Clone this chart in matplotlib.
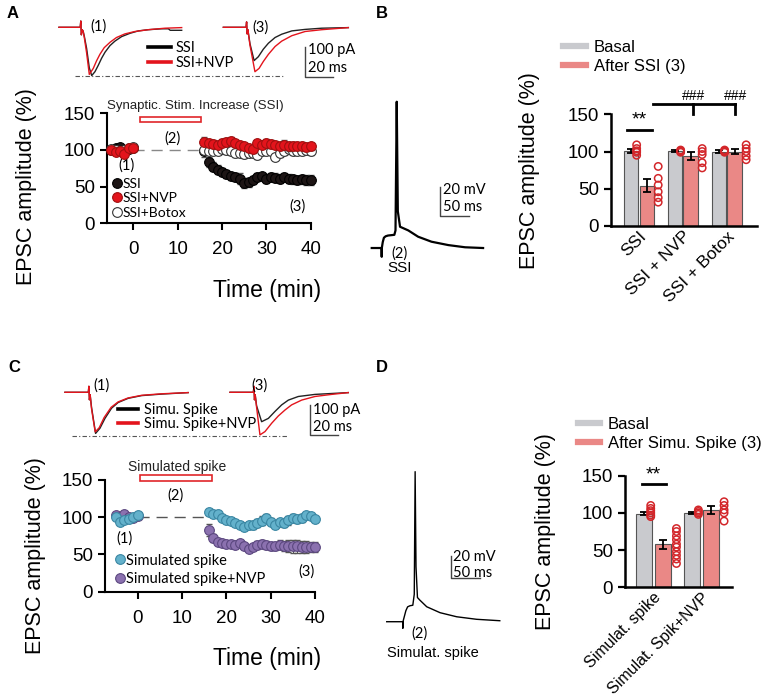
import numpy as np
import matplotlib.pyplot as plt
from matplotlib.lines import Line2D
from matplotlib.patches import Rectangle
from matplotlib.transforms import ScaledTranslation

plt.rcParams['font.family'] = ['Liberation Sans', 'DejaVu Sans']
CAL = ['Lato', 'DejaVu Sans']   # stands in for the Calibri-like annotation font

W, H = 767, 699

## ---- data ----
# time course, panel A (EPSC amplitude, % of baseline)
t_base = [-5, -4, -3, -2, -1, 0]
t_post = np.arange(16, 41)
ssi_base = [100, 102, 104, 100, 101, 103]
ssi_post = [99, 84, 77, 73, 70, 67, 64, 63, 61, 55, 56, 59, 63, 64, 61, 63, 62, 61, 63, 61, 60, 59, 60, 59, 59]
ssi_err = [8, 7, 6, 6, 6, 5, 5, 6, 7, 7, 6, 6, 5, 5, 6, 5, 6, 6, 5, 6, 6, 6, 6, 7, 7]
nvp_base = [100, 97, 99, 95, 102, 102]
nvp_post = [111, 109, 108, 107, 110, 111, 112, 109, 107, 105, 102, 101, 109, 107, 109, 108, 107, 105, 107, 105, 106, 105, 106, 104, 105]
nvp_err = [6, 5, 5, 4, 5, 5, 5, 4, 4, 5, 5, 5, 5, 5, 6, 5, 5, 5, 6, 6, 5, 5, 5, 5, 5]
btx_base = [101, 100, 98, 100, 103, 104]
btx_post = [100, 99, 98, 99, 101, 100, 98, 96, 96, 94, 96, 96, 93, 98, 99, 98, 91, 96, 99, 101, 98, 99, 98, 100, 98]
btx_err = [4, 4, 4, 4, 4, 5, 5, 5, 5, 5, 5, 5, 5, 5, 5, 5, 5, 5, 6, 6, 5, 5, 5, 5, 5]
base_err = [3, 3, 3, 3, 3, 3]

# time course, panel C
sim_base = [100, 94, 96, 97, 100, 103]
sim_post = [107, 105, 104, 99, 96, 95, 92, 90, 87, 89, 89, 92, 95, 99, 94, 90, 93, 92, 96, 99, 97, 99, 103, 101, 98]
sim_err = [4, 4, 4, 4, 4, 4, 4, 4, 4, 4, 5, 5, 6, 5, 5, 5, 5, 5, 6, 5, 5, 5, 4, 4, 4]
snvp_base = [103, 100, 105, 100, 99, 101]
snvp_post = [83, 72, 67, 65, 64, 64, 63, 65, 61, 58, 60, 63, 64, 63, 61, 61, 63, 61, 61, 61, 61, 60, 60, 60, 60]
snvp_err = [8, 5, 4, 4, 4, 4, 4, 4, 4, 4, 4, 5, 5, 5, 5, 5, 6, 7, 8, 9, 9, 8, 8, 7, 7]

# bar summaries
b_groups = ['SSI', 'SSI + NVP', 'SSI + Botox']
b_basal = [101, 101, 100]
b_basal_err = [3, 1.5, 1.5]
b_after = [54, 94, 100]
b_after_err = [9, 5, 3]
b_basal_pts = [[95, 99, 101, 104, 109], [99, 100, 101, 102], [99, 100, 101, 102]]
b_after_pts = [[32, 38, 46, 55, 64, 80], [78, 85, 96, 100, 104], [89, 94, 100, 104, 109]]

d_groups = ['Simulat. spike', 'Simulat. Spik+NVP']
d_basal = [99, 100]
d_basal_err = [2, 1]
d_after = [58, 104]
d_after_err = [6, 5]
d_basal_pts = [[95, 97, 100, 103, 106, 110], [98, 100, 102, 104]]
d_after_pts = [[32, 38, 43, 48, 54, 58, 64, 69, 75, 79], [89, 100, 104, 110, 115]]

# example EPSC traces (ms, pA), panel A
a1k_t = [0, 15, 15.4, 15.8, 16.3, 17.0, 17.9, 19.5, 21.4, 23.1, 25.4, 27.8, 30.1, 32.5, 36, 39.5, 44.2, 50.1, 56, 63, 72.5, 77.2, 78.5, 86.6]
a1k_i = [0, 0, 21, -25, -8, -12, -30, -70, -135, -161, -148, -126, -103, -83, -61, -46, -31, -20, -12, -8, -5, -5, -10, -10]
a1r_t = [0, 15, 15.4, 15.8, 16.3, 17.0, 17.9, 19.5, 21.4, 24.2, 26.5, 28.9, 31.9, 36, 40.6, 46.5, 53.6, 63, 74.8, 86.6]
a1r_i = [0, 0, 21, -25, -8, -12, -35, -85, -157, -137, -112, -90, -68, -50, -34, -22, -14, -8, -3, -1]
a3k_t = [0, 16, 16.4, 16.8, 17.3, 18.8, 21.7, 24.7, 28.2, 31.8, 36.5, 41.2, 48.3, 57.7, 69.4, 88.2]
a3k_i = [0, 0, 18, -22, -8, -55, -111, -98, -73, -53, -34, -23, -12, -7, -3, -1]
a3r_t = [0, 16, 16.4, 16.8, 17.3, 18.8, 22.3, 25.2, 28.2, 31.8, 36.5, 41.2, 48.3, 57.7, 69.4, 88.2]
a3r_i = [0, 0, 18, -22, -8, -60, -148, -137, -114, -90, -64, -46, -28, -14, -8, -1]

# example EPSC traces, panel C
c1k_t = [0, 16.7, 17.1, 17.5, 18, 19, 21.9, 25, 28.6, 33.3, 38, 45.2, 54.8, 69, 88]
c1k_i = [0, 0, 20, -25, -8, -50, -137, -120, -87, -53, -34, -20, -11, -6, -1]
c1r_t = [0, 16.7, 17.1, 17.5, 18, 19, 21.6, 24.5, 28, 33, 38, 45, 54.8, 69, 88]
c1r_i = [0, 0, 20, -25, -8, -55, -132, -118, -84, -50, -32, -19, -10, -5, -1]
c3k_t = [0, 16.7, 17.1, 17.5, 18, 19, 22.6, 27.4, 32.1, 36.9, 41.7, 48.8, 60.7, 84.5]
c3k_i = [0, 0, 20, -25, -8, -45, -98, -87, -64, -42, -26, -14, -7, -1]
c3r_t = [0, 16.7, 17.1, 17.5, 18, 19, 21.4, 25, 29.8, 34.5, 39.3, 44, 51.2, 60.7, 72.6, 84.5]
c3r_i = [0, 0, 20, -25, -8, -50, -142, -131, -103, -79, -59, -42, -26, -14, -7, -1]

# spike traces (ms, mV)
bsp_t = [0, 17, 17.2, 17.4, 19, 21, 24, 28, 39, 41, 43.1, 45, 48.8, 63, 80, 103, 132, 161, 192]
bsp_v = [-70, -70, -76, -70, -66, -63, -62, -61.5, -61, -58, 29.7, -45, -55.5, -58, -62.3, -65.7, -68, -69.5, -70]
dsp_t = [0, 27.6, 27.8, 28, 30, 33, 36, 40, 45, 47.5, 49, 50.5, 53, 57, 69, 92, 120.7, 155, 195]
dsp_v = [-70, -70, -76, -70, -66, -60, -56.5, -55.5, -55, -45, 66.4, -20, -48, -50.3, -56.4, -61.8, -65.5, -67.8, -69.1]

RED = '#e3141c'
GRAY_BAR = '#c9cace'
SALMON = '#ea8886'
TICK_FS = 13.5
LABEL_FS = 15.5

fig = plt.figure(figsize=(W / 100, H / 100), dpi=100)


def px_axes(x0, y0, x1, y1):
    return fig.add_axes([x0 / W, 1 - y1 / H, (x1 - x0) / W, (y1 - y0) / H])


def fig_text(x, y, s, **kw):
    fig.text(x / W, 1 - y / H, s, **kw)


def fig_legend(ax, handles, labels, x, y, **kw):
    ax.legend(handles, labels, loc='center left', bbox_to_anchor=(x / W, 1 - y / H),
              bbox_transform=fig.transFigure, frameon=False, borderpad=0,
              borderaxespad=0, **kw)


def trace_axes(box, xlim, ylim):
    ax = px_axes(*box)
    ax.set_xlim(*xlim)
    ax.set_ylim(*ylim)
    ax.axis('off')
    return ax


def course_axes(ax, xlim):
    ax.set_xlim(*xlim)
    ax.set_ylim(0, 150)
    ax.spines[['top', 'right']].set_visible(False)
    for s in ['left', 'bottom']:
        ax.spines[s].set_linewidth(1.5)
    ax.set_xticks([0, 10, 20, 30, 40])
    ax.set_yticks([0, 50, 100, 150])
    ax.tick_params(direction='out', length=5, width=1.5, labelsize=TICK_FS)
    ax.tick_params(axis='x', pad=8)


def course_series(ax, base, post, err, face, edge, z, label):
    ax.errorbar(t_base, base, yerr=base_err, fmt='none', ecolor='#555', elinewidth=0.8,
                capsize=2, zorder=z - 0.5, clip_on=False)
    ax.errorbar(t_post, post, yerr=err, fmt='none', ecolor='#555', elinewidth=0.8,
                capsize=2, zorder=z - 0.5, clip_on=False)
    ax.plot(t_base, base, 'o', ms=7, mfc=face, mec=edge, mew=0.8, zorder=z, clip_on=False)
    return ax.plot(t_post, post, 'o', ms=7, mfc=face, mec=edge, mew=0.8, zorder=z,
                   clip_on=False, label=label)[0]


def bar_panel(ax, groups, basal, basal_err, after, after_err, basal_pts, after_pts,
              off, dx_b, dx_a, xlim, lbl_shift, lbl_fs):
    x = np.arange(len(groups))
    ekw = dict(ecolor='k', elinewidth=1.3, capsize=3, capthick=1.3)
    ax.bar(x - off, basal, width=0.33, color=GRAY_BAR, edgecolor='#555', lw=0.8,
           yerr=basal_err, error_kw=ekw, zorder=2)
    ax.bar(x + off, after, width=0.33, color=SALMON, edgecolor='#555', lw=0.8,
           yerr=after_err, error_kw=ekw, zorder=2)
    for i in range(len(groups)):
        ax.scatter([i + dx_b] * len(basal_pts[i]), basal_pts[i], s=28, facecolors='none',
                   edgecolors='#d3262a', linewidths=1.1, zorder=3, clip_on=False)
        ax.scatter([i + dx_a] * len(after_pts[i]), after_pts[i], s=28, facecolors='none',
                   edgecolors='#d3262a', linewidths=1.1, zorder=3, clip_on=False)
    ax.set_xlim(*xlim)
    ax.set_ylim(0, 150)
    ax.spines[['top', 'right']].set_visible(False)
    for s in ['left', 'bottom']:
        ax.spines[s].set_linewidth(1.8)
    ax.set_yticks([0, 50, 100, 150])
    ax.set_xticks(x)
    ax.set_xticklabels(groups, rotation=45, ha='right', va='top', rotation_mode='anchor',
                       fontsize=lbl_fs)
    shift = ScaledTranslation(lbl_shift / 100, 0, fig.dpi_scale_trans)
    for lbl in ax.get_xticklabels():
        lbl.set_transform(lbl.get_transform() + shift)
    ax.tick_params(axis='y', direction='out', length=5, width=1.6, labelsize=TICK_FS)
    ax.tick_params(axis='x', length=0, pad=2)


# ---- panel letters ----
for letter, (x, y) in zip('ABCD', [(7, 13), (376, 13), (8, 367), (376, 367)]):
    fig_text(x, y, letter, fontsize=12, fontweight='bold', va='center', ha='left')

# ---- A: example EPSCs ----
ax = trace_axes((55, 15, 355, 85), (0, 211.7), (-192.3, 41))
for off, (tk, ik, tr, ir) in [(2.8, (a1k_t, a1k_i, a1r_t, a1r_i)),
                              (118.8, (a3k_t, a3k_i, a3r_t, a3r_i))]:
    ax.plot(np.add(tk, off), ik, color='#222', lw=1.0)
    ax.plot(np.add(tr, off), ir, color=RED, lw=1.0)
ax.plot([14.1, 161], [-161, -161], color='#555', lw=0.8, dashes=(4, 2, 1, 2))
ax.plot([176.4, 176.4, 196.4], [-64.6, -164.6, -164.6], color='#444', lw=1)
ax.text(178.5, -75.6, '100 pA', va='center', ha='left', fontsize=10.5, family=CAL)
ax.text(178.5, -134.6, '20 ms', va='center', ha='left', fontsize=10.5, family=CAL)
ax.text(30.6, 2, '(1)', va='center', ha='center', fontsize=10.5, family=CAL)
ax.text(144.7, -1, '(3)', va='center', ha='center', fontsize=10.5, family=CAL)
fig_legend(ax, [Line2D([], [], color='k', lw=2.6), Line2D([], [], color=RED, lw=2.6)],
           ['SSI', 'SSI+NVP'], 148, 55.5, handlelength=1.6, handletextpad=0.3,
           labelspacing=0.05, prop={'family': CAL, 'size': 10.5})

# ---- A: time course ----
ax = px_axes(106.7, 113.3, 310.7, 223.3)
course_axes(ax, (-6, 40))
h1 = course_series(ax, ssi_base, ssi_post, ssi_err, '#1d1515', '#000', 3, 'SSI')
h3 = course_series(ax, btx_base, btx_post, btx_err, 'white', '#333', 4, 'SSI+Botox')
h2 = course_series(ax, nvp_base, nvp_post, nvp_err, RED, '#a01010', 5, 'SSI+NVP')
ax.plot([0, 15], [100, 100], color='#888', lw=1, dashes=(8, 5))
ax.add_patch(Rectangle((1.4, 137.7), 13.9, 7.7, fill=False, ec='#e0262a', lw=1.2, clip_on=False))
ax.text(-5.9, 160, 'Synaptic. Stim. Increase (SSI)', fontsize=9.5, color='#222',
        va='center', ha='left')
ax.text(8.8, 115, '(2)', fontsize=10.5, family=CAL, ha='center', va='center')
ax.text(-1.6, 79, '(1)', fontsize=10.5, family=CAL, ha='center', va='center')
ax.text(37, 23.5, '(3)', fontsize=10.5, family=CAL, ha='center', va='center')
fig_legend(ax, [h1, h2, h3], ['SSI', 'SSI+NVP', 'SSI+Botox'], 111, 198.3,
           handlelength=0.8, handletextpad=0.05, labelspacing=0.2,
           prop={'family': CAL, 'size': 10})
fig_text(26.5, 187, 'EPSC amplitude (%)', rotation=90, fontsize=LABEL_FS, ha='center', va='center')
fig_text(266.7, 290, 'Time (min)', fontsize=16.5, ha='center', va='center')

# ---- B: spike trace ----
ax = trace_axes((365, 90, 485, 280), (-11.6, 195.3), (-91.8, 37.7))
ax.plot(bsp_t, bsp_v, color='k', lw=1.6)
ax.plot([117.8, 117.8, 167.8], [-28.2, -48.2, -48.2], color='#444', lw=1)
ax.text(123.4, -30.5, '20 mV', fontsize=10.5, family=CAL, va='center', ha='left')
ax.text(123.4, -41.8, '50 ms', fontsize=10.5, family=CAL, va='center', ha='left')
ax.text(33.3, -73.8, '(2)', fontsize=10.5, family=CAL, va='center', ha='left')
ax.text(48.8, -83.9, 'SSI', fontsize=11, va='center', ha='center')

# ---- B: bars ----
ax = px_axes(610.7, 114.3, 756.7, 226)
bar_panel(ax, b_groups, b_basal, b_basal_err, b_after, b_after_err, b_basal_pts,
          b_after_pts, 0.18, -0.05, 0.44, (-0.64, 2.68), 4, 12.5)
ax.plot([-0.26, 0.29], [129.4, 129.4], color='k', lw=2, clip_on=False)
ax.text(0.0, 130.5, '**', ha='center', va='bottom', fontsize=14)
ax.plot([0.315, 2.19], [164, 164], color='k', lw=2, clip_on=False)
for xb in [1.24, 2.19]:
    ax.plot([xb, xb], [164, 150], color='k', lw=2, clip_on=False)
    ax.text(xb, 165, '###', ha='center', va='bottom', fontsize=10)
fig_legend(ax, [Line2D([], [], color=GRAY_BAR, lw=4.5), Line2D([], [], color=SALMON, lw=4.5)],
           ['Basal', 'After SSI (3)'], 563, 57, handlelength=1.35, handletextpad=0.5,
           labelspacing=0.25, fontsize=12)
fig_text(530, 171, 'EPSC amplitude (%)', rotation=90, fontsize=LABEL_FS, ha='center', va='center')

# ---- C: example EPSCs ----
ax = trace_axes((55, 380, 355, 445), (0, 214.3), (-175.7, 41))
for off, (tk, ik, tr, ir) in [(7.1, (c1k_t, c1k_i, c1r_t, c1r_i)),
                              (125, (c3k_t, c3k_i, c3r_t, c3r_i))]:
    ax.plot(np.add(tk, off), ik, color='#222', lw=1.0)
    ax.plot(np.add(tr, off), ir, color=RED, lw=1.0)
ax.plot([11.9, 165.5], [-145.7, -145.7], color='#555', lw=0.8, dashes=(4, 2, 1, 2))
ax.plot([182.1, 182.1, 202.1], [-42, -142.3, -142.3], color='#444', lw=1)
ax.text(184.3, -59, '100 pA', va='center', ha='left', fontsize=10.5, family=CAL)
ax.text(184.3, -115.7, '20 ms', va='center', ha='left', fontsize=10.5, family=CAL)
ax.text(33.4, 21, '(1)', va='center', ha='center', fontsize=10.5, family=CAL)
ax.text(146.4, 24, '(3)', va='center', ha='center', fontsize=10.5, family=CAL)
fig_legend(ax, [Line2D([], [], color='k', lw=2.6), Line2D([], [], color=RED, lw=2.6)],
           ['Simu. Spike', 'Simu. Spike+NVP'], 118, 417, handlelength=1.35, handletextpad=0.45,
           labelspacing=0.05, prop={'family': CAL, 'size': 10.5})

# ---- C: time course ----
ax = px_axes(105, 480, 315, 591.7)
course_axes(ax, (-7.4, 40))
g1 = course_series(ax, sim_base, sim_post, sim_err, '#63b1cb', '#3a86a2', 4, 'Simulated spike')
g2 = course_series(ax, snvp_base, snvp_post, snvp_err, '#8b71af', '#5c4880', 3, 'Simulated spike+NVP')
ax.plot([0, 16], [100, 100], color='#555', lw=1, dashes=(8, 5))
ax.add_patch(Rectangle((0.4, 149), 16.3, 7.7, fill=False, ec='#e0262a', lw=1.2, clip_on=False))
ax.text(8.8, 168, 'Simulated spike', fontsize=10, color='#222', va='center', ha='center')
ax.text(8.4, 128.5, '(2)', fontsize=10.5, family=CAL, ha='center', va='center')
ax.text(-2.9, 71.6, '(1)', fontsize=10.5, family=CAL, ha='center', va='center')
ax.text(38, 27, '(3)', fontsize=10.5, family=CAL, ha='center', va='center')
fig_legend(ax, [g1, g2], ['Simulated spike', 'Simulated spike+NVP'], 114.5, 569.7,
           handlelength=0.8, handletextpad=0.0, labelspacing=0.3,
           prop={'family': CAL, 'size': 10.5})
fig_text(36, 556, 'EPSC amplitude (%)', rotation=90, fontsize=LABEL_FS, ha='center', va='center')
fig_text(266.7, 658.3, 'Time (min)', fontsize=16.5, ha='center', va='center')

# ---- D: spike trace ----
ax = trace_axes((380, 460, 505, 660), (-11.6, 204), (-104.8, 77))
ax.plot(dsp_t, dsp_v, color='k', lw=1.0)
ax.plot([110.9, 110.9, 160.9], [-10.5, -30.5, -30.5], color='#444', lw=1)
ax.text(114.3, -10.9, '20 mV', fontsize=10.5, family=CAL, va='center', ha='left')
ax.text(114.3, -26, '50 ms', fontsize=10.5, family=CAL, va='center', ha='left')
ax.text(43.1, -80.5, '(2)', fontsize=10.5, family=CAL, va='center', ha='left')
ax.text(79, -98.7, 'Simulat. spike', fontsize=10.5, va='center', ha='center')

# ---- D: bars ----
ax = px_axes(625, 475.7, 731.7, 587.3)
bar_panel(ax, d_groups, d_basal, d_basal_err, d_after, d_after_err, d_basal_pts,
          d_after_pts, 0.2, -0.06, 0.48, (-0.6, 1.64), 6, 11.5)
ax.plot([-0.25, 0.26], [138.5, 138.5], color='k', lw=2, clip_on=False)
ax.text(0.0, 139.5, '**', ha='center', va='bottom', fontsize=14)
fig_legend(ax, [Line2D([], [], color=GRAY_BAR, lw=4.5), Line2D([], [], color=SALMON, lw=4.5)],
           ['Basal', 'After Simu. Spike (3)'], 578, 434, handlelength=1.3, handletextpad=0.5,
           labelspacing=0.25, fontsize=12)
fig_text(545, 532, 'EPSC amplitude (%)', rotation=90, fontsize=LABEL_FS, ha='center', va='center')

fig.savefig('out.png', dpi=100)
